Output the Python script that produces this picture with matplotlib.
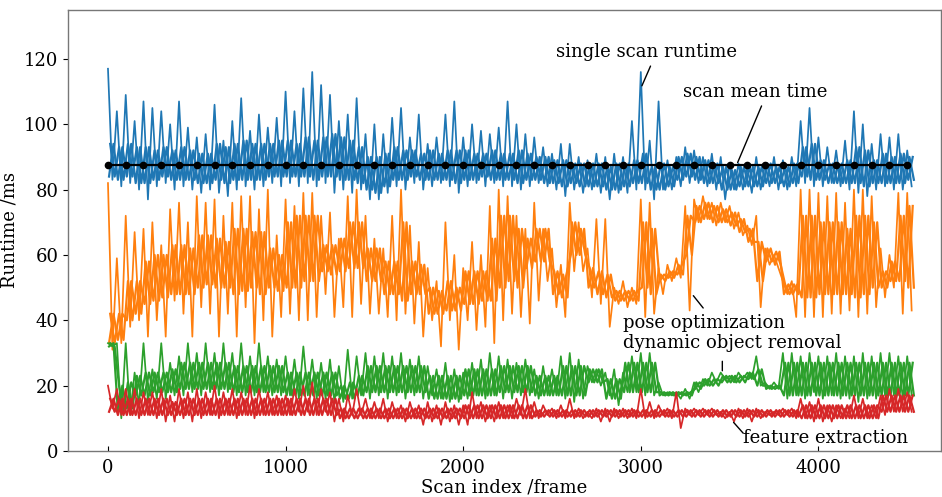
import numpy as np
import matplotlib
matplotlib.use("Agg")
import matplotlib.pyplot as plt

plt.rcParams['font.family'] = ['DejaVu Serif']

# frame index at the start of each 50-frame bin
bin_start = list(range(0, 4501, 50))

# ---- single scan runtime (ms): spikes, dips and dense core band per bin ----
single_hi = [117,104,109,101,107,105,104,100,107,99,96,97,106,95,101,108,98,103,99,102,
             110,104,111,116,112,109,101,103,108,97,100,97,102,105,96,103,94,96,103,107,
             96,100,98,97,99,107,100,97,96,93,91,94,94,90,89,91,90,91,90,101,
             116,95,107,89,90,93,92,90,91,90,88,88,87,90,88,90,89,90,101,105,
             96,93,92,95,104,100,94,97,96,97,92]
single_lo = [83,81,82,80,77,81,82,80,81,80,79,80,79,78,80,81,80,81,82,81,
             82,81,82,81,82,79,80,79,80,77,77,79,81,80,82,80,81,82,81,79,
             81,82,81,82,81,81,80,81,82,81,80,78,80,79,80,79,77,79,79,80,
             80,77,80,80,81,82,82,81,80,77,80,80,79,80,81,80,80,81,82,81,
             81,82,81,80,79,78,80,81,80,80,81]
single_core_hi = [94,93,94,93,93,92,93,92,93,92,91,91,
                  94,93,94,95,94,94,94,95,95,94,96,95,96,97,96,95,
                  93,90,90,91,
                  93,92,92,91,92,91,92,92,92,91,91,92,91,91,92,91,90,90,
                  89,89,88,88,88,88,87,88,88,89,
                  91,87,88,87,
                  90,91,90,
                  89,88,87,86,87,87,87,88,87,87,88,
                  93,94,
                  89,88,88,89,
                  93,92,89,
                  91,90,91,90]
single_core_lo = [84,83,84,82,82,83,84,83,83,83,82,82,
                  83,82,83,83,83,83,84,84,84,84,84,83,84,84,83,83,
                  82,80,79,81,
                  83,83,84,83,83,83,83,82,83,83,84,83,83,83,82,83,83,82,
                  82,81,82,81,81,81,80,80,81,82,
                  82,80,80,81,
                  83,84,83,
                  82,82,80,80,81,81,81,82,82,81,82,
                  84,83,
                  83,82,82,82,
                  82,81,82,
                  82,82,82,83]

# ---- pose optimization (ms) ----
pose_hi = [82,59,72,67,68,70,63,74,76,70,78,76,77,72,76,78,78,74,80,66,
           77,75,79,79,72,73,65,78,80,72,65,62,72,80,69,64,56,52,70,60,
           56,64,60,75,80,78,72,68,76,68,62,57,76,70,62,71,71,50,52,50,
           77,76,56,57,59,75,77,78,76,76,75,73,69,72,62,60,52,52,80,80,
           79,78,79,76,80,80,78,62,60,79,79]
pose_lo = [31,33,38,40,35,40,35,46,42,35,44,42,35,42,35,44,33,40,35,41,
           42,40,40,41,48,41,44,41,45,42,42,41,40,42,39,35,40,32,40,31,
           40,37,38,33,40,42,41,39,46,52,44,41,55,55,47,45,38,45,44,45,
           41,42,48,52,53,43,70,71,69,70,68,66,63,44,57,56,48,41,41,41,
           41,42,42,43,41,42,44,47,50,42,43]
pose_core_hi = [42,42,52,52,58,60,60,63,63,62,66,66,65,64,68,68,67,67,62,60,
                70,72,72,72,63,63,65,70,70,62,62,58,58,70,58,57,50,49,52,50,
                55,55,55,65,72,72,68,65,68,68,55,54,70,68,56,55,54,49,49,49,
                70,68,54,55,57,72,75,76,75,74,73,71,68,64,62,61,51,51,72,72,
                70,70,70,68,72,72,70,55,58,72,75]
pose_core_lo = [33,34,40,42,45,46,47,48,48,48,50,51,50,50,48,49,50,48,50,49,
                50,50,52,52,55,54,55,56,56,52,52,48,48,46,48,48,42,42,43,43,
                45,45,46,46,50,52,50,56,58,58,48,47,60,60,50,48,47,46,46,46,
                50,48,52,53,54,60,70,71,70,70,69,67,64,52,58,57,48,48,47,47,
                48,48,48,48,47,48,50,50,52,52,50]

# ---- dynamic object removal (ms) ----
dyn_hi = [33,33,33,24,33,25,33,27,29,33,30,33,30,33,30,33,29,33,29,28,
          29,28,32,28,27,28,26,31,29,30,29,30,29,30,28,29,26,25,27,25,
          24,27,28,30,29,28,27,28,25,26,25,29,30,28,26,25,24,25,24,29,
          30,30,21,18,18,19,21,22,24,24,23,24,24,29,21,21,30,30,29,30,
          29,29,30,29,29,30,29,30,30,29,29]
dyn_lo = [32,10,11,14,15,16,16,17,17,18,17,18,17,18,17,17,17,18,17,17,
          17,16,17,16,16,15,15,16,17,16,17,16,17,16,17,16,17,16,15,15,
          16,17,16,17,16,16,17,17,16,17,17,16,15,16,21,20,17,14,18,18,
          17,17,17,17,16,16,18,20,21,22,21,22,22,20,19,19,16,17,16,18,
          16,17,16,16,15,16,16,17,17,16,17]
dyn_core_hi = [33,20,21,23,24,24,24,25,27,27,27,27,27,27,26,26,26,26,26,26,
               24,24,24,24,24,24,20,21,23,26,26,26,26,26,26,26,23,23,23,23,
               25,25,25,25,26,26,26,26,23,23,23,26,26,26,25,25,22,22,27,27,
               27,27,18,18,18,18,21,22,22,23,23,23,24,25,20,20,27,27,27,27,
               27,27,27,27,27,27,27,27,27,27,27]
dyn_core_lo = [32,12,13,17,17,18,18,18,19,19,19,19,19,19,18,18,18,18,18,18,
               17,17,17,17,17,17,16,16,17,18,18,18,18,18,18,18,16,16,16,16,
               17,17,17,17,18,18,18,18,17,17,17,17,17,17,21,21,16,16,18,18,
               18,18,17,17,17,17,19,20,20,21,21,21,22,20,19,19,17,17,17,17,
               17,17,17,17,17,17,17,17,17,17,17]

# ---- feature extraction (ms) ----
feat_hi = [20,19,19,19,18,18,19,17,19,18,19,18,20,18,19,18,20,19,18,17,
           17,19,20,21,19,18,16,17,19,16,15,16,15,14,15,14,15,14,15,14,
           14,18,15,14,15,14,16,19,15,14,13,14,16,13,12,13,13,13,13,13,
           19,15,14,13,18,13,13,13,13,12,12,13,13,13,12,12,13,13,16,15,
           16,14,14,13,17,16,14,17,19,19,18]
feat_lo = [13,11,11,10,11,10,9,9,10,9,10,11,10,11,10,11,10,11,11,11,
           11,12,12,11,12,9,9,11,11,10,10,9,10,9,10,8,9,8,9,8,
           8,10,9,9,10,10,11,10,10,11,10,10,10,10,10,9,9,10,10,10,
           10,10,11,10,7,11,11,11,11,10,9,10,9,10,11,11,11,10,10,9,
           9,9,10,10,10,10,10,11,12,12,12]
feat_core_hi = [16,16,16,16,16,16,16,15,16,16,16,16,16,16,16,16,16,16,16,16,
                16,16,16,16,16,16,13,13,13,13,13,13,13,13,13,13,13,13,13,13,
                14,14,14,14,14,14,14,14,12.5,12.5,12.5,12.5,12.5,12.5,12.5,12.5,12.5,12.5,12.5,12.5,
                12.5,12.5,12.5,12.5,12.5,12.5,12.5,12.5,12.5,12.5,12.5,12.5,12.5,12.5,12.5,12.5,12.5,12.5,14,14,
                14,14,14,14,14,14,14,17,17,17,17]
feat_core_lo = [12,11,11,11,11,11,11,11,11,11,11,11,11,11,11,11,11,11,11,11,
                11,11,11,11,11,11,10,10,10,10,10,10,10,10,10,10,10,10,10,10,
                10,10,10,10,10,10,10,10,10.5,10.5,10.5,10.5,10.5,10.5,10.5,10.5,10.5,10.5,10.5,10.5,
                10.5,10.5,10.5,10.5,10.5,10.5,10.5,10.5,10.5,10.5,10.5,10.5,10.5,10.5,10.5,10.5,10.5,10.5,10,10,
                10,10,10,10,10,10,10,12,12,12,12]

scan_mean = 87.5
mean_frames = list(range(0, 4501, 100))

xticks = [0, 1000, 2000, 3000, 4000]
yticks = [0, 20, 40, 60, 80, 100, 120]


def zigzag(starts, hi, lo, offset):
    s = np.asarray(starts, float) + offset
    x = np.column_stack([s, s + 25]).ravel()
    y = np.column_stack([hi, lo]).ravel()
    return x, y


fig = plt.figure(figsize=(9.42, 4.97), dpi=100)
ax = fig.add_axes([0.0722, 0.0926, 0.9267, 0.8874])

series = [(single_hi, single_lo, single_core_hi, single_core_lo, '#1f77b4'),
          (pose_hi, pose_lo, pose_core_hi, pose_core_lo, '#ff7f0e'),
          (dyn_hi, dyn_lo, dyn_core_hi, dyn_core_lo, '#2ca02c'),
          (feat_hi, feat_lo, feat_core_hi, feat_core_lo, '#d62728')]
for hi, lo, chi, clo, c in series:
    # dense body of the trace
    x, y = zigzag(bin_start, chi, clo, 12.5)
    ax.plot(x, y, color=c, lw=1.6)
    x, y = zigzag(bin_start, clo, chi, 6)
    ax.plot(x, y, color=c, lw=1.6)
    # spikes and dips
    x, y = zigzag(bin_start, hi, lo, 0)
    ax.plot(x, y, color=c, lw=1.25)

ax.plot(mean_frames, [scan_mean] * len(mean_frames), color='black', lw=1.6,
        marker='o', markersize=4.5)

ax.set_xlim(-225, 4690)
ax.set_ylim(0, 135)
ax.set_xticks(xticks)
ax.set_yticks(yticks)
ax.tick_params(axis='x', direction='in', length=3.5, labelsize=13, pad=6)
ax.tick_params(axis='y', direction='out', length=3.5, labelsize=13)
for s in ax.spines.values():
    s.set_color('#777777')
    s.set_linewidth(1.0)

ax.set_xlabel('Scan index /frame', fontsize=13, labelpad=1)
ax.set_ylabel('Runtime /ms', fontsize=13, labelpad=4)

fs = 13
line = dict(arrowstyle='-', color='black', lw=1.0)
ax.text(3030, 122, 'single scan runtime', fontsize=fs, ha='center', va='center')
ax.annotate('', xy=(3000, 111), xytext=(3061, 118.6), arrowprops=line)
ax.text(3643, 110, 'scan mean time', fontsize=fs, ha='center', va='center')
ax.annotate('', xy=(3539, 87.5), xytext=(3686, 106.4), arrowprops=line)
ax.text(3356, 39.2, 'pose optimization', fontsize=fs, ha='center', va='center')
ax.annotate('', xy=(3286, 48.2), xytext=(3361, 43.1), arrowprops=line)
ax.text(3514, 33, 'dynamic object removal', fontsize=fs, ha='center', va='center')
ax.annotate('', xy=(3459, 23.7), xytext=(3459, 28.3), arrowprops=line)
ax.text(4043, 3.9, 'feature extraction', fontsize=fs, ha='center', va='center')
ax.annotate('', xy=(3512, 9.4), xytext=(3587, 4.8), arrowprops=line)

fig.savefig('out.png', dpi=100)
